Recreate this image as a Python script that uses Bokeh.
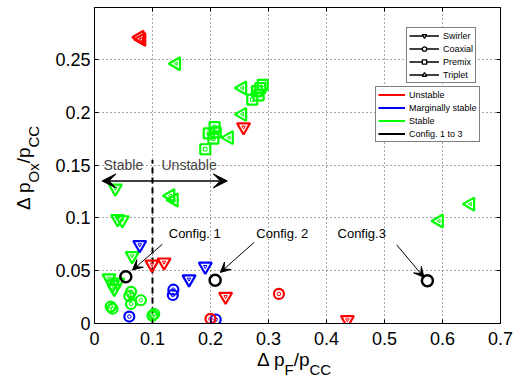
import math
from bokeh.plotting import figure
from bokeh.models import (ColumnDataSource, Range1d, FixedTicker, LinearAxis,
                          Label, Arrow, VeeHead, Legend, LegendItem, Div)
from bokeh.embed import file_html
from bokeh.resources import INLINE

# ---------------- data ----------------
x_ticks = [0.0, 0.1, 0.2, 0.3, 0.4, 0.5, 0.6, 0.7]
x_tick_labels = ["0", "0.1", "0.2", "0.3", "0.4", "0.5", "0.6", "0.7"]
y_ticks = [0.0, 0.05, 0.1, 0.15, 0.2, 0.25]
y_tick_labels = ["0", "0.05", "0.1", "0.15", "0.2", "0.25"]

swirler_green_x = [0.036, 0.040, 0.048, 0.065, 0.025, 0.031, 0.040, 0.034]
swirler_green_y = [0.128, 0.099, 0.098, 0.064, 0.043, 0.037, 0.039, 0.033]
swirler_blue_x = [0.078, 0.191, 0.163]
swirler_blue_y = [0.0745, 0.054, 0.042]
swirler_red_x = [0.257, 0.099, 0.120, 0.226, 0.436]
swirler_red_y = [0.186, 0.056, 0.058, 0.0255, 0.0035]

coaxial_green_x = [0.063, 0.060, 0.080, 0.063, 0.031, 0.028, 0.103, 0.100]
coaxial_green_y = [0.030, 0.026, 0.022, 0.0185, 0.014, 0.016, 0.009, 0.0075]
coaxial_blue_x = [0.060, 0.136, 0.135, 0.209]
coaxial_blue_y = [0.0066, 0.032, 0.027, 0.0038]
coaxial_red_x = [0.200, 0.318]
coaxial_red_y = [0.0044, 0.028]

premix_green_x = [0.290, 0.286, 0.280, 0.283, 0.272, 0.207, 0.209, 0.197, 0.205, 0.191]
premix_green_y = [0.226, 0.223, 0.220, 0.216, 0.212, 0.186, 0.181, 0.180, 0.175, 0.165]

triplet_green_x = [0.141, 0.255, 0.255, 0.232, 0.131, 0.137, 0.648, 0.594]
triplet_green_y = [0.246, 0.223, 0.198, 0.176, 0.121, 0.117, 0.113, 0.097]
triplet_red_x = [0.078, 0.081]
triplet_red_y = [0.271, 0.269]

config_x = [0.054, 0.208, 0.574]
config_y = [0.0443, 0.041, 0.0405]
config_labels = ["Config. 1", "Config. 2", "Config.3"]

stability_threshold = 0.1
shape_names = ["Swirler", "Coaxial", "Premix", "Triplet"]
stability_names = ["Unstable", "Marginally stable", "Stable", "Config. 1 to 3"]
x_label_parts = [("\u0394 p", False), ("F", True), ("/p", False), ("CC", True)]
y_label_parts = [("\u0394 p", False), ("Ox", True), ("/p", False), ("CC", True)]

# ---------------- annotation geometry ----------------
config_text_pos = [(0.128, 0.085), (0.279, 0.085), (0.419, 0.085)]
config_arrow_start = [(0.117, 0.075), (0.275, 0.0767), (0.521, 0.0745)]
config_arrow_end = [(0.0655, 0.0507), (0.217, 0.0484), (0.568, 0.0437)]
region_arrow = (0.013, 0.229, 0.135)
region_line_top = 0.155

FONT = "Liberation Sans"
RED, BLUE, GREEN, BLACK = "#ff0000", "#0000ff", "#00ff00", "#000000"
W, H = 518, 383

p = figure(width=W, height=H, output_backend="svg", toolbar_location=None,
           x_range=Range1d(0, 0.7), y_range=Range1d(0, 0.2992),
           min_border_left=94, min_border_right=18, min_border_top=7,
           min_border_bottom=60)
p.outline_line_color = "black"
p.outline_line_width = 1
p.background_fill_color = "white"
p.border_fill_color = "white"

def style_axis(ax, ticks, labels, show_labels=True):
    ax.ticker = FixedTicker(ticks=ticks)
    ax.major_label_overrides = {t: l for t, l in zip(ticks, labels)}
    ax.major_tick_in = 4
    ax.major_tick_out = 0
    ax.minor_tick_line_color = None
    ax.axis_line_color = "black"
    ax.major_tick_line_color = "black"
    ax.major_label_text_font = FONT
    ax.major_label_text_color = "black"
    if show_labels:
        ax.major_label_text_font_size = "18px"
    else:
        ax.major_label_text_font_size = "0px"
        ax.major_label_standoff = 0

style_axis(p.xaxis[0], x_ticks, x_tick_labels)
p.xaxis[0].major_label_standoff = 8
style_axis(p.yaxis[0], y_ticks, y_tick_labels)
p.yaxis[0].major_label_standoff = 4

top_ax = LinearAxis()
style_axis(top_ax, x_ticks, [""] * len(x_ticks), show_labels=False)
p.add_layout(top_ax, "above")
right_ax = LinearAxis()
style_axis(right_ax, y_ticks, [""] * len(y_ticks), show_labels=False)
p.add_layout(right_ax, "right")

for g in (p.xgrid, p.ygrid):
    g.grid_line_color = "black"
    g.grid_line_alpha = 0.7
    g.grid_line_dash = "1 3"
    g.grid_line_width = 1

# dashed threshold line
p.line(x=[stability_threshold, stability_threshold], y=[0, region_line_top],
       line_color="black", line_width=2, line_dash="6 4")

def plot_group(xs, ys, marker, color, size, angle=0.0):
    src = ColumnDataSource(dict(x=xs, y=ys))
    p.scatter("x", "y", source=src, marker=marker, size=size, angle=angle,
              line_color=color, fill_color=None, line_width=2.2)
    p.scatter("x", "y", source=src, marker=marker, size=3.5, angle=angle,
              line_color=color, fill_color=None, line_width=1)

TRI = 13
CIR = 10
SQ = 10
plot_group(swirler_green_x, swirler_green_y, "inverted_triangle", GREEN, TRI)
plot_group(coaxial_green_x, coaxial_green_y, "circle", GREEN, CIR)
plot_group(premix_green_x, premix_green_y, "square", GREEN, SQ)
plot_group(triplet_green_x, triplet_green_y, "triangle", GREEN, TRI, math.pi / 2)
plot_group(swirler_blue_x, swirler_blue_y, "inverted_triangle", BLUE, TRI)
plot_group(coaxial_blue_x, coaxial_blue_y, "circle", BLUE, CIR)
plot_group(swirler_red_x, swirler_red_y, "inverted_triangle", RED, TRI)
plot_group(coaxial_red_x, coaxial_red_y, "circle", RED, CIR)
plot_group(triplet_red_x, triplet_red_y, "triangle", RED, TRI, math.pi / 2)

csrc = ColumnDataSource(dict(x=config_x, y=config_y))
p.scatter("x", "y", source=csrc, marker="circle", size=11, line_color=BLACK,
          fill_color=None, line_width=2.5)

# config annotations
for (tx, ty), txt, (sx, sy), (ex, ey) in zip(config_text_pos, config_labels,
                                             config_arrow_start, config_arrow_end):
    p.add_layout(Label(x=tx, y=ty, text=txt, text_font=FONT, text_font_size="13px",
                       text_baseline="middle", text_align="left", text_color="black"))
    p.add_layout(Arrow(x_start=sx, y_start=sy, x_end=ex, y_end=ey, line_width=1,
                       line_color="black",
                       end=VeeHead(size=10, fill_color="black", line_color="black",
                                   line_width=1)))

# stable / unstable region
p.add_layout(Label(x=0.0155, y=0.150, text="Stable", text_font=FONT,
                   text_font_size="14px", text_baseline="middle"))
p.add_layout(Label(x=0.1155, y=0.150, text="Unstable", text_font=FONT,
                   text_font_size="14px", text_baseline="middle"))
p.add_layout(Arrow(x_start=region_arrow[0], x_end=region_arrow[1],
                   y_start=region_arrow[2], y_end=region_arrow[2],
                   line_width=1.5, line_color="black",
                   start=VeeHead(size=14, fill_color="black", line_color="black", line_width=1),
                   end=VeeHead(size=14, fill_color="black", line_color="black", line_width=1)))

# ---------------- legends ----------------
def dummy_line(color, width):
    s = ColumnDataSource(dict(x=[-1, -0.9], y=[-1, -1]))
    return p.line("x", "y", source=s, line_color=color, line_width=width)

def dummy_marker(marker, angle=0.0):
    s = ColumnDataSource(dict(x=[-1], y=[-1]))
    return p.scatter("x", "y", source=s, marker=marker, size=9, angle=angle,
                     line_color="black", fill_color="white", line_width=1.3)

shape_markers = [("inverted_triangle", 0.0), ("circle", 0.0), ("square", 0.0),
                 ("triangle", math.pi / 2)]
items1 = []
for name, (mk, ang) in zip(shape_names, shape_markers):
    items1.append(LegendItem(label=name, renderers=[dummy_line("black", 1.5),
                                                    dummy_marker(mk, ang)]))
items2 = []
for name, col in zip(stability_names, [RED, BLUE, GREEN, BLACK]):
    items2.append(LegendItem(label=name, renderers=[dummy_line(col, 2)]))

def make_legend(items, loc, gw):
    return Legend(items=items, location=loc, orientation="vertical",
                  border_line_color="black", border_line_width=1,
                  background_fill_color="white", background_fill_alpha=1,
                  label_text_font=FONT, label_text_font_size="9px",
                  label_text_color="black",
                  glyph_width=gw, glyph_height=11, label_height=11,
                  label_standoff=4, spacing=2, padding=2, margin=0)

p.add_layout(make_legend(items1, (312, 240), 30))
p.add_layout(make_legend(items2, (281, 181), 27))

# ---------------- axis titles with subscripts (HTML overlay) ----------------
MAIN_PX, SUB_PX, SUB_SHIFT = 19, 15, 9

def label_html(parts):
    out = []
    for txt, sub in parts:
        if sub:
            out.append(f'<span style="font-size:{SUB_PX}px;position:relative;'
                       f'top:{SUB_SHIFT}px;line-height:{MAIN_PX}px;">{txt}</span>')
        else:
            out.append(txt)
    return "".join(out)

base_style = (f"position:absolute;white-space:nowrap;font-family:'{FONT}';"
              f"font-size:{MAIN_PX}px;line-height:{MAIN_PX}px;color:black;margin:0;padding:0;")
baseline_off = 0.5 * (MAIN_PX - 1.117 * MAIN_PX) + 0.905 * MAIN_PX
x_title_left, x_title_baseline = 257, 366
y_title_bottom, y_title_baseline = 210, 30

html = (
    f'<div style="{base_style}left:{x_title_left}px;top:{x_title_baseline - baseline_off:.1f}px;">'
    f'{label_html(x_label_parts)}</div>'
    f'<div style="{base_style}left:{y_title_baseline - baseline_off:.1f}px;top:{y_title_bottom}px;'
    f'transform:rotate(-90deg);transform-origin:0 0;">{label_html(y_label_parts)}</div>'
)
titles = Div(text=html, width=W, height=H,
             styles={"position": "absolute", "left": "0px", "top": "0px",
                     "pointer-events": "none", "margin": "0px", "padding": "0px"})

open("out.html", "w").write(file_html([p, titles], INLINE))
